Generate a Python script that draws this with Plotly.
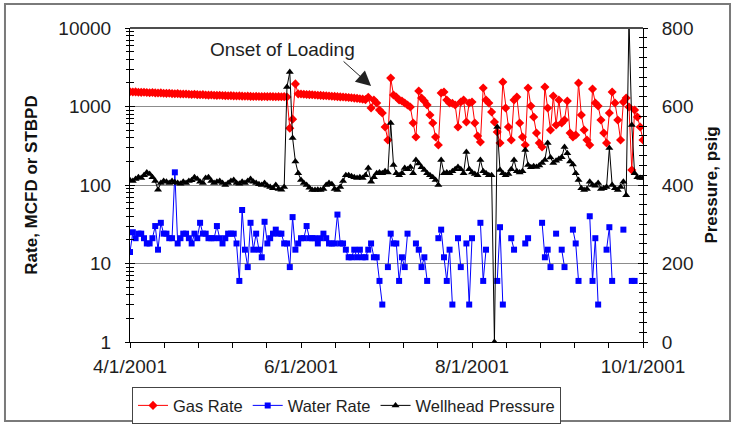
import pandas as pd
import plotly.graph_objects as go

# Daily readings, 4/1/2001 through 10/1/2001
dates = pd.date_range("2001-04-01", "2001-10-01", freq="D")

gas_rate = [
    1540, 1530, 1535, 1520, 1515, 1520, 1505, 1500, 1505, 1490,
    1485, 1490, 1475, 1470, 1475, 1460, 1455, 1460, 1445, 1440,
    1445, 1430, 1425, 1430, 1415, 1410, 1415, 1400, 1395, 1400,
    1390, 1385, 1390, 1380, 1375, 1370, 1375, 1365, 1360, 1365,
    1355, 1350, 1355, 1345, 1340, 1345, 1340, 1335, 1340, 1335,
    1340, 1335, 1330, 1335, 1330, 1335, 1320, 530, 690, 1940,
    1450, 1440, 1430, 1425, 1415, 1410, 1400, 1390, 1385, 1375,
    1370, 1360, 1350, 1345, 1335, 1325, 1320, 1310, 1300, 1290,
    1280, 1270, 1255, 1240, 1225, 1310, 960, 1210, 1110, 900,
    826, 548, 374, 2300, 1400, 1320, 1210, 1175, 1110, 1045,
    986, 617, 408, 1575, 1283, 1175, 1045, 779, 617, 408,
    323, 1486, 1530, 1210, 1108, 1100, 1045, 548, 1141, 1210,
    635, 1108, 1141, 617, 421, 353, 1722, 1210, 1108, 851,
    635, 473, 343, 2052, 957, 548, 374, 1210, 1321, 617,
    408, 323, 1722, 1015, 735, 459, 343, 305, 1772, 957,
    502, 1361, 581, 1210, 617, 673, 1175, 459, 408, 433,
    1991, 779, 502, 374, 323, 1671, 1108, 1015, 673, 459,
    343, 826, 1530, 1108, 673, 374, 1141, 1283, 986, 155,
    902, 735, 548, 374,
]

water_rate = [
    14, 25, 21, 24, 24, 21, 18, 18, 21, 30,
    15, 33, 24, 24, 21, 21, 145, 18, 21, 24,
    24, 21, 18, 24, 21, 33, 24, 24, 21, 21,
    21, 30, 21, 18, 21, 24, 24, 24, 18, 6,
    48, 15, 9, 33, 15, 24, 15, 12, 34, 18,
    21, 24, 27, 24, 24, 18, 18, 9, 39, 15,
    18, 21, 21, 30, 21, 21, 21, 18, 21, 24,
    21, 18, 18, 18, 42, 18, 18, 15, 12, 12,
    15, 12, 15, 12, 12, 15, 18, 12, 12, 6,
    3, None, 9, 24, 18, 18, 6, 12, 9, 24,
    None, None, 18, 15, 9, 12, 6, None, None, None,
    21, 27, 12, 6, 15, 3, None, 21, 9, None,
    18, 3, 21, None, None, 33, 6, 15, None, None,
    None, 6, 29, 3, None, None, 21, 15, None, None,
    None, 18, 21, None, None, None, None, 33, 12, 15,
    9, None, 24, None, 15, 9, None, None, 27, 18,
    6, None, None, None, 40, 6, 21, 3, None, None,
    15, 29, 6, None, None, None, 27, None, None, 6,
    6, None, None, None,
]

wellhead_pressure = [
    412, 410, 415, 420, 418, 425, 432, 428, 420, 410,
    388, 405, 410, 408, 405, 410, 407, 405, 403, 408,
    405, 410, 412, 420, 415, 408, 405, 418, 420, 410,
    405, 408, 410, 405, 400, 405, 410, 413, 405, 403,
    408, 405, 410, 415, 408, 405, 402, 400, 405, 398,
    395, 392, 400, 390, 388, 395, 650, 688, 520, 460,
    430, 413, 405, 400, 393, 387, 387, 388, 387, 390,
    400, 405, 402, 390, 387, 395, 410, 425, 425, 422,
    420, 418, 420, 418, 425, 443, 408, 420, 430, 432,
    430, 435, 432, 558, 451, 430, 425, 430, 443, 440,
    446, 430, 464, 455, 445, 438, 430, 425, 420, 413,
    400, 464, 430, 432, 430, 435, 440, 446, 440, 430,
    484, 440, 432, 428, 425, 464, 435, 430, 425, 425,
    0, 548, 438, 430, 425, 428, 440, 464, 435, 432,
    435, 489, 451, 445, 448, 446, 450, 456, 464, 507,
    470, 456, 462, 466, 471, 497, 481, 460, 452, 430,
    413, 392, 387, 390, 408, 400, 398, 405, 390, 392,
    395, 494, 400, 392, 387, 395, 408, 374, 820, 553,
    430, 420, 418, 418,
]

# Axis ticks
rate_ticks = [1, 10, 100, 1000, 10000]
rate_tick_text = ["1", "10", "100", "1000", "10000"]
pressure_ticks = [0, 200, 400, 600, 800]
x_label_text = ["4/1/2001", "6/1/2001", "8/1/2001", "10/1/2001"]

x_tick_pos = pd.date_range("2001-04-01", "2001-10-01", periods=16)
x_tick_vals = [t.strftime("%Y-%m-%d %H:%M:%S") for t in x_tick_pos]
x_tick_text = ["" for _ in x_tick_vals]
for i, lab in zip([0, 5, 10, 15], x_label_text):
    x_tick_text[i] = lab

rate_minor = [k * 10 ** e for e in range(4) for k in range(2, 10)]

FONT = "Liberation Sans, Arial, sans-serif"
TICK_FONT = dict(family=FONT, size=19, color="#1e1e1e")
TITLE_FONT = dict(family=FONT, size=17, color="#111111", weight="bold")

fig = go.Figure()
fig.add_trace(go.Scatter(
    x=dates, y=gas_rate, name="Gas Rate", mode="lines+markers",
    line=dict(color="#ff0000", width=1),
    marker=dict(symbol="diamond", size=7, color="#ff0000"),
    yaxis="y",
))
fig.add_trace(go.Scatter(
    x=dates, y=water_rate, name="Water Rate", mode="lines+markers",
    line=dict(color="#0000ff", width=1), connectgaps=False,
    marker=dict(symbol="square", size=6, color="#0000ff"),
    yaxis="y",
))
fig.add_trace(go.Scatter(
    x=dates, y=wellhead_pressure, name="Wellhead Pressure", mode="lines+markers",
    line=dict(color="#000000", width=1),
    marker=dict(symbol="triangle-up", size=7, color="#000000"),
    yaxis="y2",
))
# helper traces so the inner tick axes are drawn
for ax in ("y3", "y4"):
    fig.add_trace(go.Scatter(x=[None], y=[None], yaxis=ax, showlegend=False,
                             hoverinfo="skip"))

fig.update_layout(
    width=735, height=425, autosize=False,
    margin=dict(l=130, r=92, t=28, b=83),
    paper_bgcolor="white", plot_bgcolor="white",
    font=dict(family=FONT, color="#1e1e1e"),
    showlegend=True,
    legend=dict(
        orientation="h", xref="container", yref="container",
        x=0.1796, xanchor="left", y=0.0020, yanchor="bottom",
        bordercolor="#444444", borderwidth=1, bgcolor="white",
        font=dict(family=FONT, size=16.5, color="#1e1e1e"),
        itemwidth=30, tracegroupgap=0,
    ),
    xaxis=dict(
        type="date", range=["2001-04-01", "2001-10-01"],
        tickmode="array", tickvals=x_tick_vals, ticktext=x_tick_text,
        ticks="outside", ticklen=5, tickcolor="black", tickwidth=1,
        showline=True, linecolor="black", linewidth=1,
        showgrid=False, zeroline=False, tickfont=TICK_FONT,
        ticklabelstandoff=2, automargin=False,
    ),
    yaxis=dict(
        type="log", range=[0, 4],
        tickmode="array", tickvals=rate_ticks, ticktext=rate_tick_text,
        ticks="outside", ticklen=4, tickcolor="black", tickwidth=1,
        minor=dict(tickmode="array", tickvals=rate_minor, ticks="outside",
                   ticklen=3, tickcolor="black", showgrid=False),
        showline=True, linecolor="black", linewidth=1,
        showgrid=True, gridcolor="#8c8c8c", gridwidth=1,
        zeroline=False, tickfont=TICK_FONT, ticklabelstandoff=10,
        title=dict(text="Rate, MCFD or STBPD", font=TITLE_FONT, standoff=16),
        automargin=False,
    ),
    yaxis2=dict(
        overlaying="y", side="right", range=[0, 800],
        tickmode="array", tickvals=pressure_ticks,
        ticks="outside", ticklen=4, tickcolor="black", tickwidth=1,
        minor=dict(dtick=25, tick0=0, ticks="outside", ticklen=3,
                   tickcolor="black", showgrid=False),
        showline=True, linecolor="black", linewidth=1,
        showgrid=False, zeroline=False, tickfont=TICK_FONT,
        ticklabelstandoff=10,
        title=dict(text="Pressure, psig", font=TITLE_FONT, standoff=12),
        automargin=False,
    ),
    yaxis3=dict(
        overlaying="y", side="left", type="log", range=[0, 4],
        tickmode="array", tickvals=rate_ticks, showticklabels=False,
        ticks="inside", ticklen=5, tickcolor="black",
        minor=dict(tickmode="array", tickvals=rate_minor, ticks="inside",
                   ticklen=4, tickcolor="black", showgrid=False),
        showline=False, showgrid=False, zeroline=False,
    ),
    yaxis4=dict(
        overlaying="y", side="right", range=[0, 800],
        tickmode="array", tickvals=pressure_ticks, showticklabels=False,
        ticks="inside", ticklen=5, tickcolor="black",
        minor=dict(dtick=25, tick0=0, ticks="inside", ticklen=4,
                   tickcolor="black", showgrid=False),
        showline=False, showgrid=False, zeroline=False,
    ),
    shapes=[
        # chart border
        dict(type="rect", xref="paper", yref="paper",
             x0=-0.2437, x1=1.1696, y0=-0.2516, y1=1.0764,
             line=dict(color="#7a7a7a", width=2), layer="below"),
        # top edge of the plot area
        dict(type="line", xref="paper", yref="paper",
             x0=0, x1=1, y0=1, y1=1,
             line=dict(color="#4d4d4d", width=2)),
    ],
    annotations=[
        dict(text="Onset of Loading", xref="paper", yref="paper",
             x=0.298, y=0.933, xanchor="center", yanchor="middle",
             showarrow=False,
             font=dict(family=FONT, size=19, color="#1e1e1e")),
        dict(text="", xref="x", yref="y", x="2001-06-26", y=3.26,
             showarrow=True, ax=-29, ay=-26, arrowhead=2, arrowsize=3,
             arrowwidth=1, arrowcolor="#222222"),
    ],
)

fig.write_html("out.html")
